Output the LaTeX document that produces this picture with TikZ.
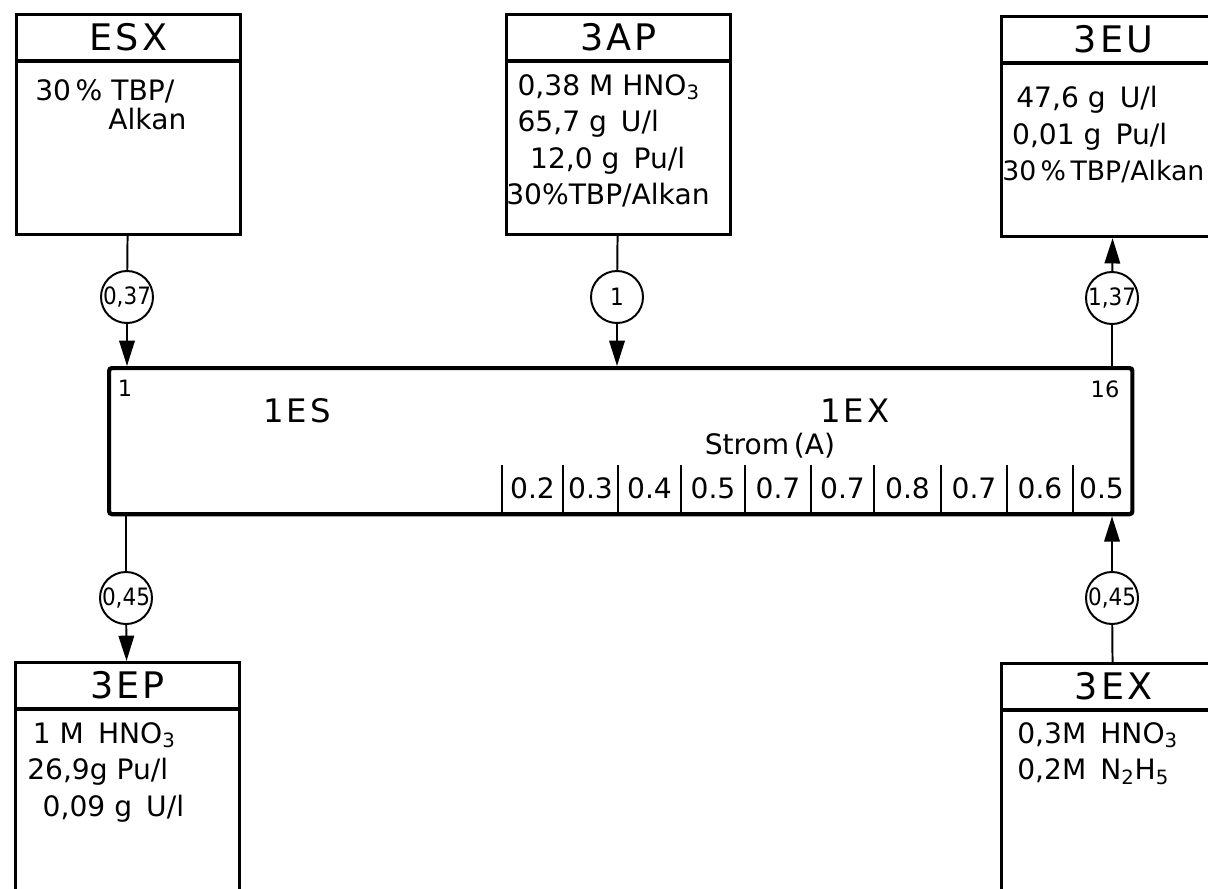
\documentclass[tikz,border=0pt]{standalone}
\usepackage{fontspec}
\setmainfont{DejaVu Sans}
\newfontfamily\tagfont[LetterSpace=9]{DejaVu Sans}
\newfontfamily\ratiofont{DejaVu Sans Condensed}
\usetikzlibrary{arrows.meta,positioning}

\begin{document}
\begin{tikzpicture}[x=0.025cm, y=-0.025cm,
  every node/.style={font=\fontsize{20}{26}\selectfont},
  feed/.style={draw, line width=2.2pt, minimum width=5.6cm, minimum height=5.5cm, anchor=north west, inner sep=0pt},
  tag/.style={font=\tagfont\fontsize{26}{30}\selectfont},
  info/.style={anchor=north west, align=left, inner sep=0pt},
  flow/.style={draw, circle, line width=1.4pt, minimum size=1.3cm, inner sep=0pt, font=\ratiofont\fontsize{17}{19}\selectfont},
  link/.style={line width=1.4pt},
  feedin/.style={link, -{Triangle[length=18pt, width=11pt]}},
]
\clip (0,0) rectangle (1208,888);

% feed and product streams
\node[feed] (esx) at (15,13) {};
\node[feed] (ap) at (505,13) {};
\node[feed] (eu) at (1000,15) {};
\node[feed, minimum height=6cm] (ep) at (14,661) {};
\node[feed, minimum height=6cm] (ex) at (1000,662) {};
\foreach \b in {esx,ap,eu,ep,ex}
  \draw[line width=2.2pt] ([yshift=-1.2cm]\b.north west) -- ([yshift=-1.2cm]\b.north east);

\node[tag] (esx-t) at ([yshift=-0.6cm]esx.north) {ESX};
\node[tag] (ap-t) at ([yshift=-0.6cm]ap.north) {3AP};
\node[tag] (eu-t) at ([yshift=-0.6cm]eu.north) {3EU};
\node[tag] (ep-t) at ([yshift=-0.6cm]ep.north) {3EP};
\node[tag] (ex-t) at ([yshift=-0.6cm]ex.north) {3EX};

\node[info] (esx-i) at (35,79) {30\,\% TBP/\\[-5pt]\hspace*{52pt}Alkan};
\node[info] (ap-i) at (506,74) {\hspace*{8pt}0,38 M HNO\textsubscript{3}\\
  \hspace*{8pt}65,7 g\enskip U/l\\
  \hspace*{17pt}12,0 g\enskip Pu/l\\
  30\%TBP/Alkan};
\node[info] (eu-i) at (1002,86) {\hspace*{10pt}47,6 g\enskip U/l\\
  \hspace*{7pt}0,01 g\enskip Pu/l\\
  {\fontsize{19}{26}\selectfont 30\,\%\,TBP/Alkan}};
\node[info] (ep-i) at (27,722) {\hspace*{4pt}1 M\enskip HNO\textsubscript{3}\\
  26,9g Pu/l\\
  \hspace*{11pt}0,09 g\enskip U/l};
\node[info] (ex-i) at (1017,722) {0,3M\enskip HNO\textsubscript{3}\\
  0,2M\enskip N\textsubscript{2}H\textsubscript{5}};

% extractor
\node[draw, line width=3pt, rounded corners=2pt, minimum width=25.575cm, minimum height=3.65cm,
  anchor=north west, inner sep=0pt] (col) at (107,366) {};
\node[font=\fontsize{16}{18}\selectfont] (st1) at (125,388) {1};
\node[font=\fontsize{16}{18}\selectfont] (st16) at (1105,389) {16};
\node[font=\tagfont\fontsize{23}{26}\selectfont] (es) at (297,411) {1ES};
\node[font=\tagfont\fontsize{23}{26}\selectfont] (exs) at (855,411) {1EX};
\node[font=\fontsize{20}{23}\selectfont] (strom) at (770,446) {Strom\,(A)};
\foreach \xa/\xb/\amp [count=\i] in {502/563/0.2, 563/618/0.3, 618/681/0.4, 681/745/0.5,
    745/811/0.7, 811/874/0.7, 874/941/0.8, 941/1007/0.7, 1007/1073/0.6, 1073/1130/0.5}{
  \draw[link] (\xa,465) -- (\xa,512);
  \node[font=\fontsize{20}{22}\selectfont] (amp\i) at ({(\xa+\xb)/2},488) {\amp};
}

% flow ratios
\node[flow] (q-esx) at (127,297) {0,37};
\node[flow] (q-ap) at (617,297) {1};
\node[flow] (q-eu) at (1112,298) {1,37};
\node[flow] (q-ep) at (126,598) {0,45};
\node[flow] (q-ex) at (1112,598) {0,45};

\draw[link] (esx) -- (q-esx);
\draw[feedin] (q-esx) -- (q-esx |- col.north);
\draw[link] (ap) -- (q-ap);
\draw[feedin] (q-ap) -- (q-ap |- col.north);
\draw[link] (col.north -| q-eu) -- (q-eu);
\draw[feedin] (q-eu) -- (eu);
\draw[link] (col.south -| q-ep) -- (q-ep);
\draw[feedin] (q-ep) -- (ep);
\draw[link] (ex) -- (q-ex);
\draw[feedin] (q-ex) -- (q-ex |- col.south);
\end{tikzpicture}
\end{document}
